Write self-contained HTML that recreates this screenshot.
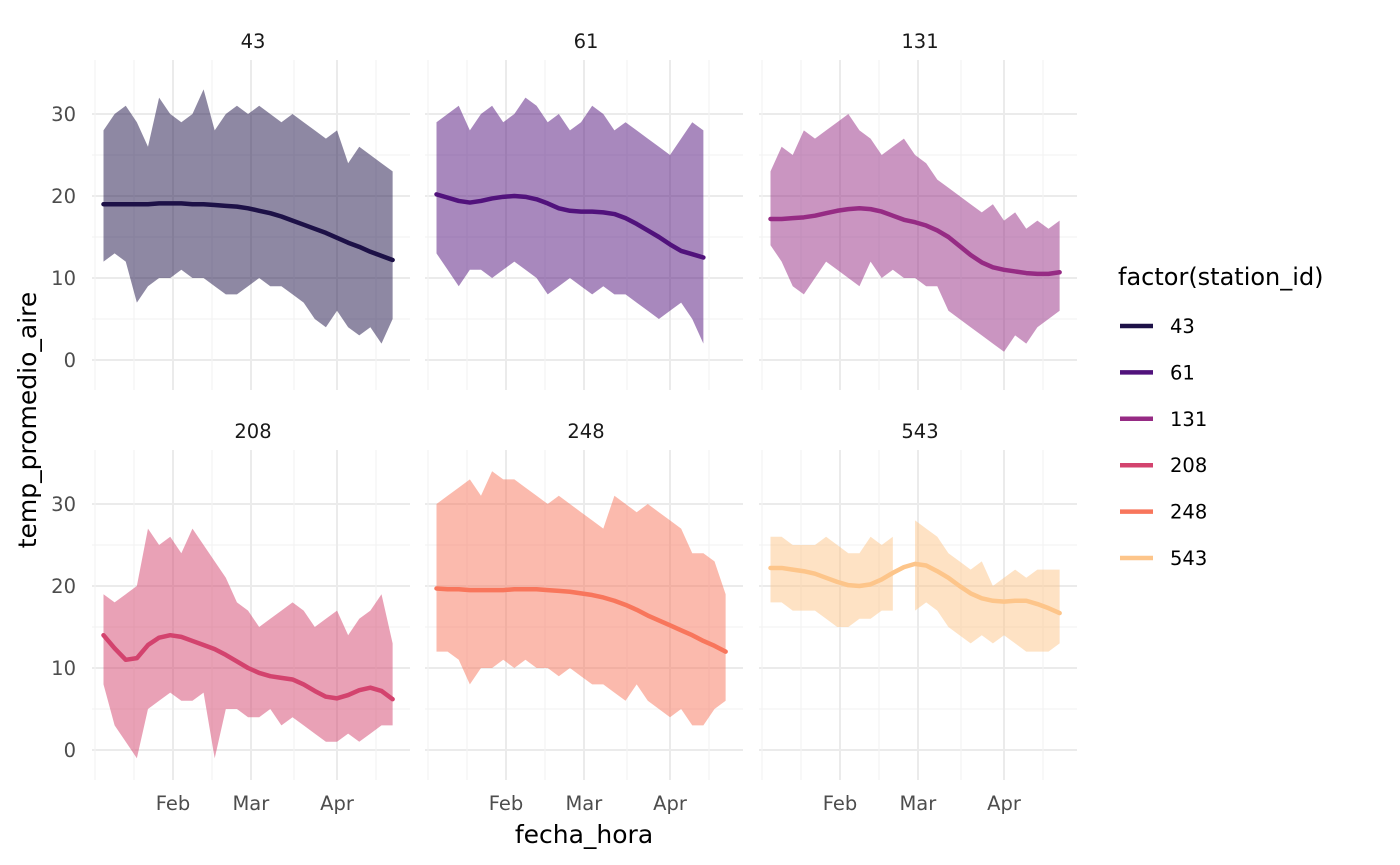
<!DOCTYPE html>
<html><head><meta charset="utf-8">
<style>
body{margin:0;background:#fff;}
svg{display:block;font-family:"DejaVu Sans","Liberation Sans",sans-serif;}
</style></head>
<body>
<svg id="chart" width="1400" height="865" viewBox="0 0 1400 865">
<g id="grid"></g>
<g id="marks"></g>
<g id="labels"></g>
<text x="584" y="843" font-size="25" fill="#000" text-anchor="middle">fecha_hora</text>
<text transform="translate(36,420) rotate(-90)" font-size="25" fill="#000" text-anchor="middle">temp_promedio_aire</text>
<g>
<text x="1118" y="285" font-size="24" fill="#000">factor(station_id)</text>
<g id="legend"></g>
</g>
</svg>
<script>
const stations = ['43','61','131','208','248','543'];
const colors = ['#1d1147','#51127c','#962b84','#d3436e','#f8765c','#fdc58a'];
const days = [6,10,14,18,22,26,30,34,38,42,46,50,54,58,62,66,70,74,78,82,86,90,94,98,102,106,110];
const max43 = [28,30,31,29,26,32,30,29,30,33,28,30,31,30,31,30,29,30,29,28,27,28,24,26,25,24,23];
const min43 = [12,13,12,7,9,10,10,11,10,10,9,8,8,9,10,9,9,8,7,5,4,6,4,3,4,2,5];
const max61 = [29,30,31,28,30,31,29,30,32,31,29,30,28,29,31,30,28,29,28,27,26,25,27,29,28,null,null];
const min61 = [13,11,9,11,11,10,11,12,11,10,8,9,10,9,8,9,8,8,7,6,5,6,7,5,2,null,null];
const max131 = [23,26,25,28,27,28,29,30,28,27,25,26,27,25,24,22,21,20,19,18,19,17,18,16,17,16,17];
const min131 = [14,12,9,8,10,12,11,10,9,12,10,11,10,10,9,9,6,5,4,3,2,1,3,2,4,5,6];
const max208 = [19,18,19,20,27,25,26,24,27,25,23,21,18,17,15,16,17,18,17,15,16,17,14,16,17,19,13];
const min208 = [8,3,1,-1,5,6,7,6,6,7,-1,5,5,4,4,5,3,4,3,2,1,1,2,1,2,3,3];
const max248 = [30,31,32,33,31,34,33,33,32,31,30,31,30,29,28,27,31,30,29,30,29,28,27,24,24,23,19];
const min248 = [12,12,11,8,10,10,11,10,11,10,10,9,10,9,8,8,7,6,8,6,5,4,5,3,3,5,6];
const max543 = [26,26,25,25,25,26,25,24,24,26,25,26,null,28,27,26,24,23,22,23,20,21,22,21,22,22,22];
const min543 = [18,18,17,17,17,16,15,15,16,16,17,17,null,17,18,17,15,14,13,14,13,14,13,12,12,12,13];
const smooth43 = [19,19,19,19,19,19.1,19.1,19.1,19,19,18.9,18.8,18.7,18.5,18.2,17.9,17.5,17,16.5,16,15.5,14.9,14.3,13.8,13.2,12.7,12.2];
const smooth61 = [20.2,19.8,19.4,19.2,19.4,19.7,19.9,20,19.9,19.6,19.1,18.5,18.2,18.1,18.1,18,17.8,17.3,16.6,15.8,15,14.1,13.3,12.9,12.5,null,null];
const smooth131 = [17.2,17.2,17.3,17.4,17.6,17.9,18.2,18.4,18.5,18.4,18.1,17.6,17.1,16.8,16.4,15.8,15,13.9,12.8,11.9,11.3,11,10.8,10.6,10.5,10.5,10.7];
const smooth208 = [14,12.4,11,11.2,12.8,13.7,14,13.8,13.3,12.8,12.3,11.6,10.8,10,9.4,9,8.8,8.6,8,7.2,6.5,6.3,6.7,7.3,7.6,7.2,6.2];
const smooth248 = [19.7,19.6,19.6,19.5,19.5,19.5,19.5,19.6,19.6,19.6,19.5,19.4,19.3,19.1,18.9,18.6,18.2,17.7,17.1,16.4,15.8,15.2,14.6,14,13.3,12.7,12];
const smooth543 = [22.2,22.2,22,21.8,21.5,21,20.5,20.1,20,20.2,20.8,21.6,22.3,22.7,22.5,21.8,21,20,19.1,18.5,18.2,18.1,18.2,18.2,17.8,17.3,16.7];
const yTicks = [0,10,20,30];
const xTickLabels = ['Feb','Mar','Apr'];
const xTickDays = [31,59,90];

const maxs=[max43,max61,max131,max208,max248,max543];
const mins=[min43,min61,min131,min208,min248,min543];
const smooths=[smooth43,smooth61,smooth131,smooth208,smooth248,smooth543];
const NS='http://www.w3.org/2000/svg';
const grid=document.getElementById('grid'),marks=document.getElementById('marks'),labels=document.getElementById('labels'),legend=document.getElementById('legend');
function mk(tag,attrs,parent){const e=document.createElementNS(NS,tag);for(const k in attrs)e.setAttribute(k,attrs[k]);parent.appendChild(e);return e;}
const panelX=[0,333,667], panelY=[0,390];
function xs(d,col){return 173+(d-31)*2.78+panelX[col];}
function ys(v,row){return 360-v*8.2+panelY[row];}
const vlines=[95,134,173,212,251,294,337,376];
for(let p=0;p<6;p++){
  const col=p%3,row=Math.floor(p/3);
  const x0=92+panelX[col],x1=410+panelX[col],y0=60+panelY[row],y1=390+panelY[row];
  [5,15,25].forEach(v=>{const l=mk('line',{x1:x0,x2:x1,y1:ys(v,row),y2:ys(v,row),stroke:'#f3f3f3','stroke-width':1.2},grid);
    });
  yTicks.forEach(v=>{const l=mk('line',{x1:x0,x2:x1,y1:ys(v,row),y2:ys(v,row),stroke:'#ebebeb','stroke-width':2},grid);
    });
  vlines.forEach((vx,i)=>{const maj=(i===2||i===4||i===6);const l=mk('line',{x1:vx+panelX[col],x2:vx+panelX[col],y1:y0,y2:y1,stroke:maj?'#ebebeb':'#f3f3f3','stroke-width':maj?2:1.2},grid);
    });
  const t=mk('text',{x:(x0+x1)/2+2,y:48+panelY[row],'font-size':19.5,fill:'#1a1a1a','text-anchor':'middle'},labels);
  t.textContent=stations[p];
  
  if(col===0){yTicks.forEach(v=>{const tt=mk('text',{x:76,y:ys(v,row)+7,'font-size':19.5,fill:'#4d4d4d','text-anchor':'end'},labels);
    tt.textContent=v;});}
  if(row===1){xTickLabels.forEach((lab,i)=>{const tt=mk('text',{x:xs(xTickDays[i],col),y:810,'font-size':19.5,fill:'#4d4d4d','text-anchor':'middle'},labels);
    tt.textContent=lab;});}
  const mx=maxs[p],mn=mins[p];let seg=[];
  const flush=()=>{if(seg.length>1){let pts=seg.map(i=>xs(days[i],col)+','+ys(mx[i],row));
      for(let k=seg.length-1;k>=0;k--){const i=seg[k];pts.push(xs(days[i],col)+','+ys(mn[i],row));}
      const pg=mk('polygon',{points:pts.join(' '),fill:colors[p],'fill-opacity':0.5},marks);
      }
    seg=[];};
  days.forEach((d,i)=>{if(mx[i]==null||mn[i]==null)flush();else seg.push(i);});flush();
  const sm=smooths[p];const sp=[];days.forEach((d,i)=>{if(sm[i]!=null)sp.push(xs(d,col)+','+ys(sm[i],row));});
  const pl=mk('polyline',{points:sp.join(' '),fill:'none',stroke:colors[p],'stroke-width':4.5,'stroke-linejoin':'round','stroke-linecap':'round'},marks);
  
}
stations.forEach((s,i)=>{const y=326+i*46.4;
  const l=mk('line',{x1:1120,x2:1153,y1:y,y2:y,stroke:colors[i],'stroke-width':4.5},legend);
  
  const t=mk('text',{x:1170,y:y+7,'font-size':19.5,fill:'#000'},legend);t.textContent=s;
  });
</script>
</body></html>
